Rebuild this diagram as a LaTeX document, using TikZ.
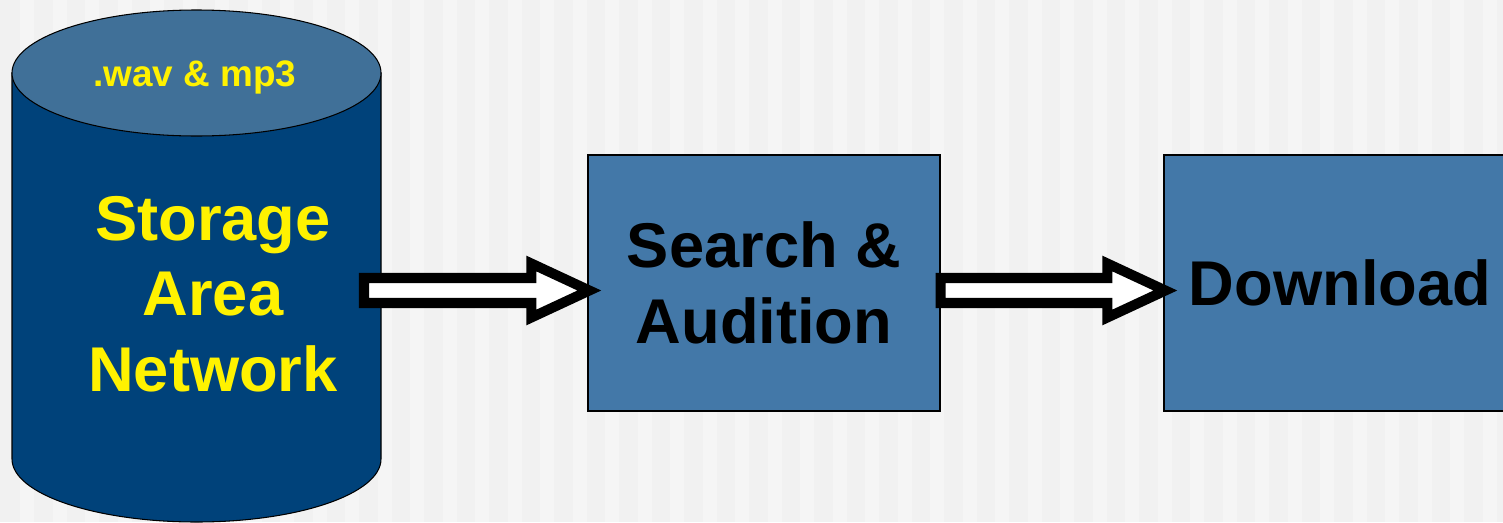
\documentclass[tikz,border=0pt]{standalone}
\usepackage{fontspec}
\setmainfont{Liberation Sans}
\usetikzlibrary{calc}

\definecolor{sanbody}{RGB}{0,66,122}
\definecolor{santop}{RGB}{64,112,152}
\definecolor{boxblue}{RGB}{67,120,168}
\definecolor{bggray}{RGB}{241,241,241}
\definecolor{bgstripe}{RGB}{245,245,245}

\tikzstyle{block}=[draw, line width=0.8pt, fill=boxblue, minimum width=7.04cm, minimum height=5.12cm, align=center, font=\fontsize{36}{43}\selectfont\bfseries]
\tikzstyle{sanlabel}=[text=yellow, align=center, font=\fontsize{36}{43}\selectfont\bfseries]
\tikzstyle{bigarrow}=[draw=black, fill=white, line width=5.7pt, miter limit=10]

% blokova sipka: #1 konec, #2 hrot
\newcommand{\blockarrow}[2]{%
  \draw[bigarrow] ($(#1)+(0,12.5)$) -- ($(#2)+(-58,12.5)$) -- ($(#2)+(-58,27)$) -- (#2)
    -- ($(#2)+(-58,-27)$) -- ($(#2)+(-58,-12.5)$) -- ($(#1)+(0,-12.5)$) -- cycle;}

\begin{document}
\begin{tikzpicture}[x=0.02cm, y=0.02cm]
            \useasboundingbox (0,0) rectangle (1503,522);

            % Pozadi
            \fill[bggray] (0,0) rectangle (1503,522);
            \foreach \i in {0,...,46}
                \fill[bgstripe] ({20+32.5*\i},0) rectangle ++(14,522);

            % Valec
            \draw[fill=sanbody, line width=0.6pt] (12,449) -- (12,63)
                arc[start angle=180, end angle=360, x radius=184.5, y radius=63] -- (381,449) -- cycle;
            \draw[fill=santop, line width=0.6pt] (196.5,449) ellipse[x radius=184.5, y radius=63];
            \node[text=yellow, font=\fontsize{21}{25}\selectfont\bfseries] (wav) at (195,445) {.wav \& mp3};
            \node[sanlabel] (san) at (213,228) {Storage\\Area\\Network};
            \coordinate (sanout) at (364,231.5);

            % Bloky
            \node[block] (search) at (764,239) {Search \&\\Audition};
            \node[block] (download) at (1340,239) {Download};

            % Sipky
            \coordinate (searchin) at ($(search.west)+(2,-7.5)$);
            \coordinate (searchout) at ($(search.east)+(0,-7.5)$);
            \coordinate (downloadin) at ($(download.west)+(2,-7.5)$);
            \blockarrow{sanout}{searchin}
            \blockarrow{searchout}{downloadin}
        \end{tikzpicture}
\end{document}
